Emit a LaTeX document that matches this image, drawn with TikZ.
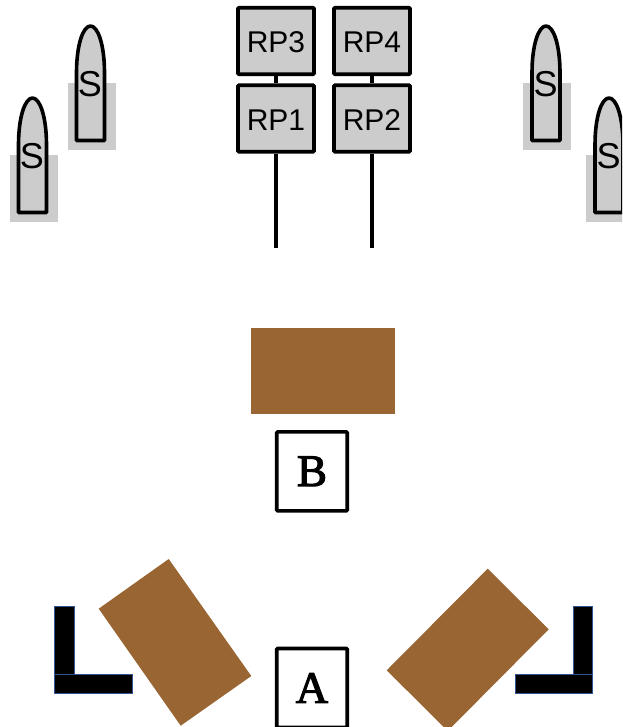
\documentclass[tikz,border=0pt]{standalone}
\usepackage{fontspec}
\setmainfont{Liberation Sans}
\newfontfamily\serifletter[FakeBold=2.5]{Liberation Serif}
\definecolor{boxGray}{HTML}{CCCCCC}
\definecolor{tableBrown}{HTML}{996633}
\definecolor{wallBlue}{HTML}{2F5597}
\tikzset{
    rpBox/.style={draw=black, fill=boxGray, line width=3.6pt, rounded corners=1pt, minimum width=76pt, minimum height=66.5pt, inner sep=0pt, outer sep=1.8pt, text height=24pt, text depth=0pt, font=\fontsize{30}{32}\selectfont},
    letterBox/.style={draw=black, fill=white, line width=3.6pt, rounded corners=1pt, minimum width=70.5pt, minimum height=79pt, inner sep=0pt, font=\fontsize{45}{47}\selectfont\serifletter},
    shellLabel/.style={inner sep=0pt, font=\fontsize{36}{38}\selectfont},
    rpLine/.style={line width=3.6pt}
}
\newcommand{\drawWallL}[4]{\filldraw [black, draw=wallBlue, line width=0.8pt] #1 rectangle #2; \filldraw [black, draw=wallBlue, line width=0.8pt] #3 rectangle #4}
\newcommand{\drawTable}[4]{\fill [tableBrown] #1 -- #2 -- #3 -- #4 -- cycle}
% x = middle of the shell, y = its top
\newcommand{\drawShell}[3]{
    \fill [boxGray] (#1-23,#2+57) rectangle (#1+25,#2+124);
    \draw [fill=boxGray, line width=3.6pt, line join=round] (#1-14,#2+114.5) -- (#1-14,#2+47) .. controls (#1-14,#2+19) and (#1-7.5,#2) .. (#1,#2) .. controls (#1+7.5,#2) and (#1+14,#2+19) .. (#1+14,#2+47) -- (#1+14,#2+114.5) -- cycle;
    \node [shellLabel] (#3) at (#1-0.5,#2+58) {S};
}
\begin{document}
\begin{tikzpicture}[x=1pt, y=-1pt]
    \clip (0,0) rectangle (622,727);

    %shells
    \drawShell{32.5}{98}{shellA}
    \drawShell{90.5}{26}{shellB}
    \drawShell{546}{26}{shellC}
    \drawShell{609}{98}{shellD}

    %for the rp boxes
    \node [rpBox] (rp3) at (276,41) {RP3};
    \node [rpBox] (rp4) at (372,41) {RP4};
    \node [rpBox] (rp1) at (276,118.5) {RP1};
    \node [rpBox] (rp2) at (372,118.5) {RP2};
    \coordinate (rp1End) at (276,247.5);
    \coordinate (rp2End) at (372,247.5);
    \draw [rpLine] (rp3) -- (rp1);
    \draw [rpLine] (rp4) -- (rp2);
    \draw [rpLine] (rp1) -- (rp1End);
    \draw [rpLine] (rp2) -- (rp2End);

    %for tables
    \drawTable{(251.1,328)}{(395.1,328)}{(395.1,414.3)}{(251.1,414.3)};
    \drawTable{(168.7,559)}{(251.3,676)}{(180.7,725.7)}{(98.7,608.7)};
    \drawTable{(487.7,568.7)}{(548.7,629.3)}{(447.7,731)}{(386.7,670.3)};

    %for letters
    \node [letterBox] (boxB) at (312,471.3) {B};
    \node [letterBox] (boxA) at (312,688) {A};

    %for walls
    \drawWallL{(54.7,606)}{(74.7,674)}{(54.7,674)}{(132,693.3)};
    \drawWallL{(573.3,606)}{(592.7,674)}{(515.7,674)}{(592.7,693.3)};
\end{tikzpicture}
\end{document}
